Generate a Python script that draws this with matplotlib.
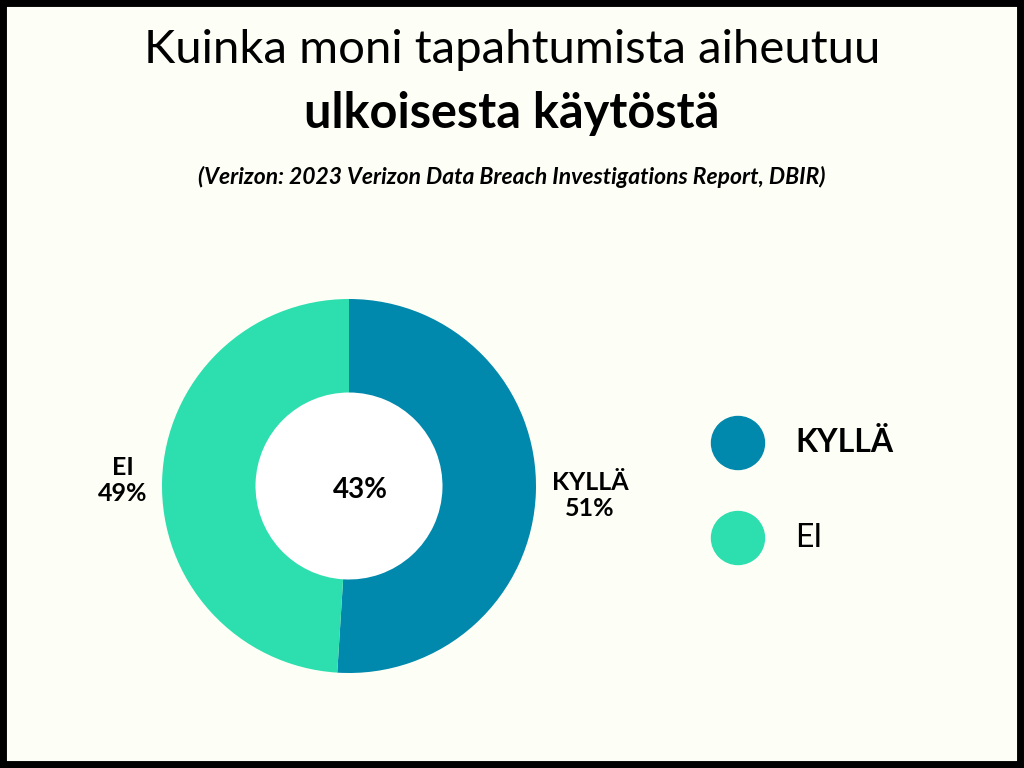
import matplotlib.pyplot as plt
from matplotlib.patches import Rectangle, Circle, Ellipse

# data
categories = ["KYLLÄ", "EI"]
shares = [51, 49]
center_label = "43%"
colors = ["#0088AD", "#2DDEAE"]

title_1 = "Kuinka moni tapahtumista aiheutuu"
title_2 = "ulkoisesta käytöstä"
subtitle = "(Verizon: 2023 Verizon Data Breach Investigations Report, DBIR)"

bg = "#FDFEF5"

fig = plt.figure(figsize=(10.24, 7.68), dpi=100, facecolor=bg)
W, H = 1024, 768

fig.text(0.5, 1 - 50 / H, title_1, ha="center", va="center",
         fontsize=34, family="Lato", weight="normal", color="black")
fig.text(0.5, 1 - 113 / H, title_2, ha="center", va="center",
         fontsize=35, family="Lato", weight="bold", color="black")
fig.text(0.5, 1 - 177 / H, subtitle, ha="center", va="center",
         fontsize=16.5, family="Lato", weight="bold", style="italic", color="black")

# donut
cx, cy, r = 349, 486, 187
ax = fig.add_axes([(cx - r) / W, 1 - (cy + r) / H, 2 * r / W, 2 * r / H])
ax.set_facecolor(bg)
wedges, _ = ax.pie(shares, colors=colors, startangle=90, counterclock=False,
                   radius=1, wedgeprops=dict(width=0.5, linewidth=0))
ax.add_patch(Circle((0, 0), 0.5, color="white", zorder=0))
ax.set_xlim(-1, 1)
ax.set_ylim(-1, 1)
ax.axis("off")

ax.text(0.06, -0.02, center_label, ha="center", va="center",
        fontsize=20, family="Lato", weight="bold")
ax.text(1.29, -0.05, f"{categories[0]}\n{shares[0]}%", ha="center", va="center",
        fontsize=18, family="Lato", weight="bold", linespacing=1.15)
ax.text(-1.21, 0.03, f"{categories[1]}\n{shares[1]}%", ha="center", va="center",
        fontsize=18, family="Lato", weight="bold", linespacing=1.15)

# legend
for i, (cat, col) in enumerate(zip(categories, colors)):
    y = 443 + i * 95
    fig.patches.append(Ellipse((738 / W, 1 - y / H), 53 / W, 53 / H,
                               transform=fig.transFigure, color=col))
    fig.text(795 / W, 1 - y / H, cat, ha="left", va="center", fontsize=23,
             family="Lato", weight="bold" if i == 0 else "normal")

# border
fig.patches.append(Rectangle((0, 0), 1, 1, transform=fig.transFigure,
                             fill=False, edgecolor="black", linewidth=10))

fig.savefig("out.png", dpi=100, facecolor=bg)
